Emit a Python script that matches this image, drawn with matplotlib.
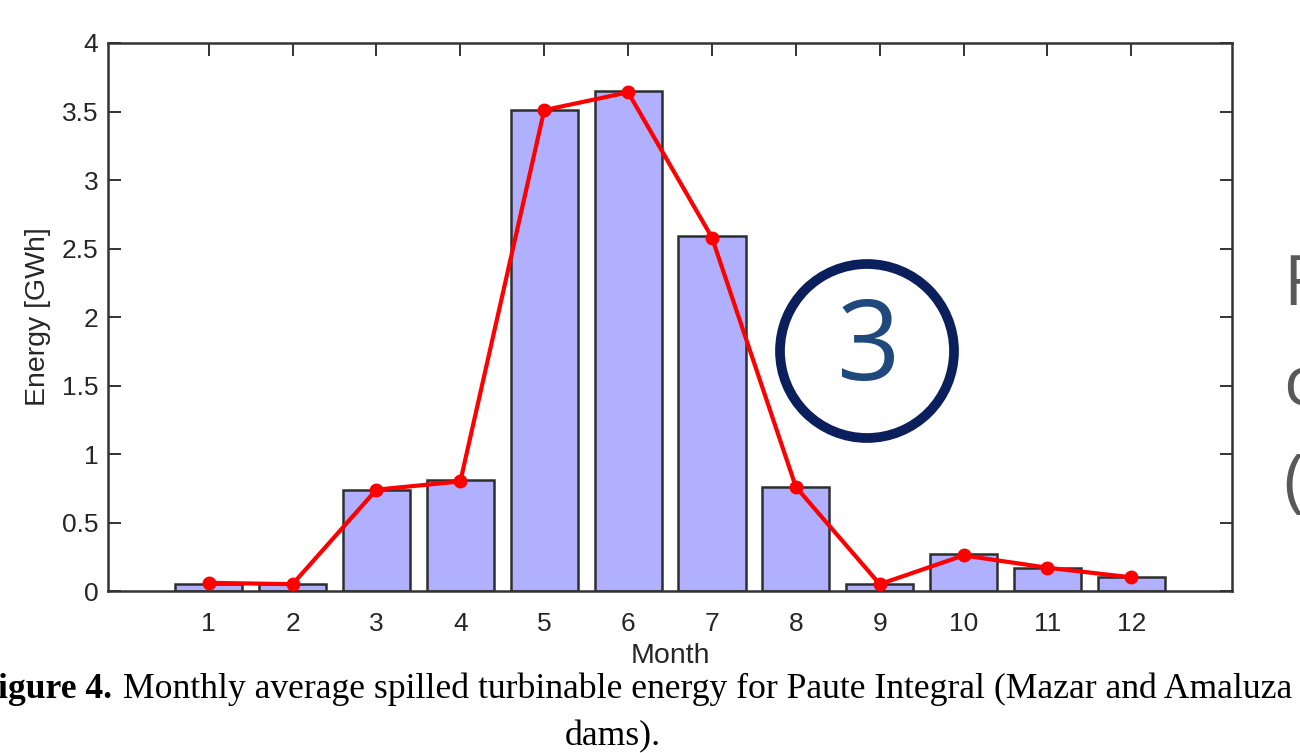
import numpy as np
import matplotlib.pyplot as plt
from matplotlib.patches import Circle

months = np.arange(1, 13)
bar_vals = [0.05, 0.05, 0.74, 0.81, 3.51, 3.65, 2.59, 0.76, 0.05, 0.27, 0.17, 0.10]
line_vals = [0.06, 0.05, 0.74, 0.80, 3.51, 3.64, 2.58, 0.76, 0.05, 0.26, 0.17, 0.10]
yticks = [0, 0.5, 1, 1.5, 2, 2.5, 3, 3.5, 4]
ytick_labels = ['0', '0.5', '1', '1.5', '2', '2.5', '3', '3.5', '4']

plt.rcParams['font.family'] = ['Liberation Sans', 'DejaVu Sans']

fig = plt.figure(figsize=(13, 7.53), dpi=100)
ax = fig.add_axes([0.0831, 0.2151, 0.8646, 0.7278])

ax.bar(months, bar_vals, width=0.8, color='#b0b0ff', edgecolor='#2e2e2e', linewidth=1.8, zorder=2)
ax.plot(months, line_vals, color='#ff0000', linewidth=3, marker='o', markersize=9, zorder=3)

ax.set_xlim(-0.2, 13.2)
ax.set_ylim(0, 4)
ax.set_xticks(months)
ax.set_yticks(yticks)
ax.set_yticklabels(ytick_labels)
ax.tick_params(direction='in', top=True, right=True, length=9, width=1.4,
               labelsize=19, colors='#333333', labelcolor='#262626')
ax.tick_params(axis='x', pad=15)
ax.tick_params(axis='y', pad=7)
for s in ax.spines.values():
    s.set_color('#333333')
    s.set_linewidth(1.8)
ax.set_xlabel('Month', fontsize=20.5, color='#262626', labelpad=5)
ax.set_ylabel('Energy [GWh]', fontsize=20.5, color='#262626', labelpad=8)

# annotation circle with number
circ = Circle((867, 753 - 351), 87, transform=None, fill=False,
              edgecolor='#0b1f5c', linewidth=7, zorder=5)
fig.patches.append(circ)
fig.text(869 / 1300, 1 - 351 / 753, '3', fontsize=80, color='#1f497d',
         family='Open Sans', ha='center', va='center')

# clipped slide text on the right
for ch, yy in [('F', 287), ('c', 388), ('(', 486)]:
    fig.text(1283 / 1300, 1 - yy / 753, ch, fontsize=50, color='#595959',
             family='Open Sans', ha='left', va='center')

# caption
fig.text(-2 / 1300, 1 - 689 / 753, 'igure 4.', fontsize=25.7, family='Liberation Serif',
         fontweight='bold', ha='left', va='center', color='black')
fig.text(123 / 1300, 1 - 689 / 753,
         'Monthly average spilled turbinable energy for Paute Integral (Mazar and Amaluza',
         fontsize=25.7, family='Liberation Serif', ha='left', va='center', color='black')
fig.text(613 / 1300, 1 - 737 / 753, 'dams).', fontsize=25.7, family='Liberation Serif',
         ha='center', va='center', color='black')

fig.savefig('out.png', dpi=100)
